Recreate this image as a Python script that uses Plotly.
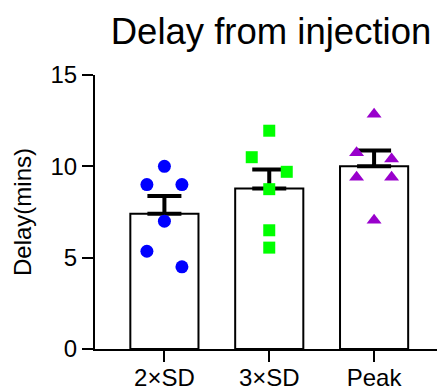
import plotly.graph_objects as go

categories = ["2×SD", "3×SD", "Peak"]
means = [7.40, 8.78, 10.0]
sems = [0.97, 1.05, 0.86]
pts_2sd = [10.0, 9.0, 9.0, 7.0, 5.35, 4.5]
pts_3sd = [11.95, 10.5, 9.7, 8.75, 6.5, 5.55]
pts_peak = [12.85, 10.75, 10.4, 9.4, 9.4, 7.05]
y_ticks = [0, 5, 10, 15]

# layout-only horizontal spread of dots (scatter-dot style)
spread = 0.167
offsets = [
    [0, -1, 1, 0, -1, 1],
    [0, -1, 1, 0, 0, 0],
    [0, -1, 1, -1, 1, 0],
]
point_sets = [pts_2sd, pts_3sd, pts_peak]
styles = [
    dict(symbol="circle", color="#0000FF", size=13),
    dict(symbol="square", color="#00FF00", size=12),
    dict(symbol="triangle-up", color="#9900CC", size=13),
]

FONT = "Liberation Sans, Arial, sans-serif"
xs = list(range(len(categories)))

fig = go.Figure()
fig.add_trace(go.Bar(
    x=xs, y=means, width=0.65,
    marker=dict(color="white", line=dict(color="black", width=2)),
    error_y=dict(type="data", symmetric=False, array=sems,
                 arrayminus=[0] * len(sems), color="black",
                 thickness=4, width=17),
    showlegend=False, hoverinfo="skip",
))
for i, (pts, st) in enumerate(zip(point_sets, styles)):
    fig.add_trace(go.Scatter(
        x=[i + o * spread for o in offsets[i]], y=pts, mode="markers",
        marker=dict(symbol=st["symbol"], color=st["color"], size=st["size"],
                    line=dict(width=0)),
        showlegend=False,
    ))

fig.update_layout(
    width=437, height=391,
    margin=dict(l=95, r=0, t=75, b=42, autoexpand=False),
    paper_bgcolor="white", plot_bgcolor="white",
    font=dict(family=FONT, color="black", size=24),
    title=dict(text="Delay from injection", x=271 / 437, xanchor="center",
               xref="container", y=1 - 31 / 391, yanchor="middle", yref="container",
               font=dict(size=36.5, family=FONT, color="black")),
)
fig.update_xaxes(
    range=[-0.662, 2.6], tickmode="array", tickvals=xs, ticktext=categories,
    showline=True, linecolor="black", linewidth=2, ticks="outside",
    ticklen=11, tickwidth=2, tickcolor="black", showgrid=False, zeroline=False,
    tickfont=dict(size=24), automargin=False, ticklabelstandoff=-5,
)
fig.update_yaxes(
    range=[0, 15], tickmode="array", tickvals=y_ticks,
    showline=True, linecolor="black", linewidth=2, ticks="outside",
    ticklen=11, tickwidth=2, tickcolor="black", showgrid=False, zeroline=False,
    tickfont=dict(size=24), automargin=False,
    title=dict(text="Delay(mins)", font=dict(size=24), standoff=12),
)
fig.write_html("out.html")
